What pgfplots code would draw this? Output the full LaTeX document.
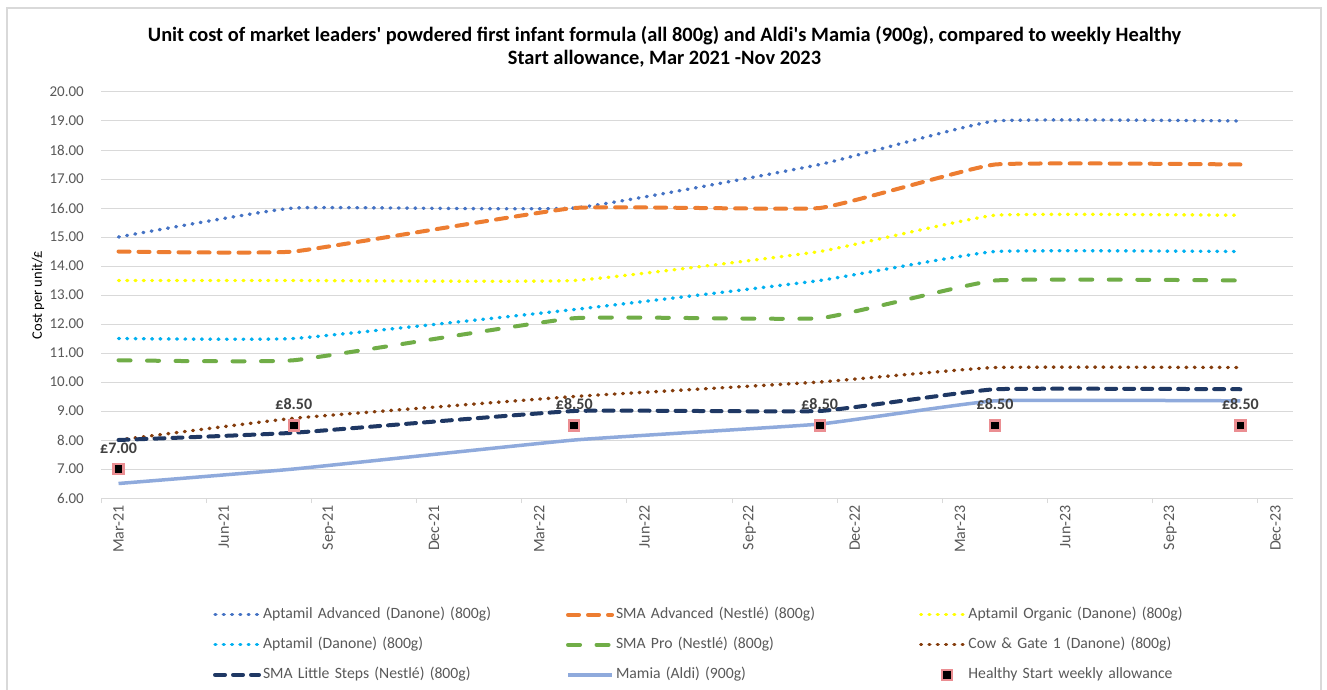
\documentclass[border=0pt]{standalone}
\usepackage{fontspec}
\setmainfont{Carlito}
\usepackage{pgfplots}
\pgfplotsset{compat=1.18}
\definecolor{cborder}{HTML}{D9D9D9}
\definecolor{ctext}{HTML}{595959}
\definecolor{clab}{HTML}{404040}
\definecolor{cAA}{HTML}{4472C4}
\definecolor{cSA}{HTML}{ED7D31}
\definecolor{cAO}{HTML}{FFFF00}
\definecolor{cAP}{HTML}{00B0F0}
\definecolor{cSP}{HTML}{70AD47}
\definecolor{cCG}{HTML}{843C0C}
\definecolor{cSL}{HTML}{1F3864}
\definecolor{cMA}{HTML}{8FAADC}
\definecolor{cMK}{HTML}{EB8E92}
\pgfplotsset{hslegend/.style={legend image code/.code={\draw[##1] plot coordinates {(26pt,0pt)};}},
  dotline/.style={line width=3.4pt, line cap=round, dash pattern=on 0.8pt off 7.5pt, smooth, tension=0.2},
  dashline/.style={line width=4pt, line cap=round, dash pattern=on 11pt off 9pt, smooth, tension=0.2}}
\begin{document}
\begin{tikzpicture}
\path[use as bounding box, fill=white] (0,0) rectangle (1327pt,689pt);
\draw[cborder, line width=1.2pt] (7pt,-5pt) -- (7pt,681pt) -- (1321pt,681pt) -- (1321pt,-5pt);
\node[font=\fontsize{20.4}{23}\selectfont\bfseries, align=center] at (664.5pt,642pt)
  {Unit cost of market leaders\textquotesingle\ powdered first infant formula (all 800g) and Aldi\textquotesingle s Mamia (900g), compared to weekly Healthy\\Start allowance, Mar 2021 -Nov 2023};
\begin{axis}[
  scale only axis, width=1192pt, height=406pt,
  at={(101pt,191pt)}, anchor=south west,
  xmin=-0.5, xmax=33.5, ymin=6, ymax=20,
  axis x line*=bottom, axis y line*=left,
  separate axis lines,
  x axis line style={draw=cborder, line width=1pt, -},
  y axis line style={draw=none},
  ymajorgrids, grid style={cborder, line width=1pt},
  ytick={6,7,...,20},
  ytick style={draw=none},
  /pgf/number format/assume math mode=true,
  yticklabel={\pgfmathprintnumber[fixed,fixed zerofill,precision=2]{\tick}},
  yticklabel style={inner sep=0pt, xshift=-12pt, text=ctext, font=\fontsize{15}{18}\selectfont},
  tick align=outside,
  major tick length=5pt,
  xtick={-0.5,2.5,...,32.5},
  xticklabels={},
  xtick style={draw=cborder, line width=1pt},
  extra x ticks={0,3,...,33},
  extra x tick labels={Mar-21,Jun-21,Sep-21,Dec-21,Mar-22,Jun-22,Sep-22,Dec-22,Mar-23,Jun-23,Sep-23,Dec-23},
  extra x tick style={major tick length=0pt, xtick style={draw=none}},
  xticklabel style={rotate=90, anchor=east, inner sep=0pt, xshift=-7pt, text=ctext, font=\fontsize{16}{18}\selectfont},
  ylabel={Cost per unit/£},
  ylabel style={at={(axis description cs:-0.0529,0.5)}, anchor=center, font=\fontsize{14.5}{17}\selectfont, text=black},
  legend image code/.code={\draw[#1] (0pt,0pt) -- (44pt,0pt);},
  legend cell align=left,
  legend style={draw=none, fill=none, inner sep=0pt, outer sep=0pt,
    at={(0.094,-0.271)}, anchor=north west,
    font=\fontsize{15.7}{17}\selectfont, text=ctext,
    legend columns=3, row sep=16.5pt,
    nodes={inner sep=0pt, text width=303pt, text height=10.5pt, text depth=3pt, align=left},
    /tikz/every odd column/.append style={column sep=2pt}},
]
\addplot[cAA, dotline] coordinates {(0,15) (5,16) (13,16) (20,17.5) (25,19) (32,19)};
\addlegendentry{Aptamil Advanced (Danone) (800g)}
\addplot[cSA, dashline] coordinates {(0,14.5) (5,14.5) (13,16) (20,16) (25,17.5) (32,17.5)};
\addlegendentry{SMA Advanced (Nestlé) (800g)}
\addplot[cAO, dotline] coordinates {(0,13.5) (5,13.5) (13,13.5) (20,14.5) (25,15.75) (32,15.75)};
\addlegendentry{Aptamil Organic (Danone) (800g)}
\addplot[cAP, dotline] coordinates {(0,11.5) (5,11.5) (13,12.5) (20,13.5) (25,14.5) (32,14.5)};
\addlegendentry{Aptamil (Danone) (800g)}
\addplot[cSP, line width=4pt, line cap=round, dash pattern=on 12pt off 16.5pt, smooth, tension=0.2] coordinates {(0,10.75) (5,10.75) (13,12.2) (20,12.2) (25,13.5) (32,13.5)};
\addlegendentry{SMA Pro (Nestlé) (800g)}
\addplot[cCG, dotline] coordinates {(0,8) (5,8.75) (13,9.5) (20,10) (25,10.5) (32,10.5)};
\addlegendentry{Cow \& Gate 1 (Danone) (800g)}
\addplot[cSL, line width=4pt, line cap=round, dash pattern=on 10pt off 8pt, smooth, tension=0.2] coordinates {(0,8) (5,8.25) (13,9) (20,9) (25,9.75) (32,9.75)};
\addlegendentry{SMA Little Steps (Nestlé) (800g)}
\addplot[cMA, line width=3.5pt, smooth, tension=0.2] coordinates {(0,6.5) (5,7) (13,8) (20,8.55) (25,9.35) (32,9.35)};
\addlegendentry{Mamia (Aldi) (900g)}
\addplot[only marks, mark=square*, mark size=5pt, mark options={fill=black, draw=cMK, line width=2.2pt},
  hslegend,
  nodes near coords, point meta=explicit symbolic,
  every node near coord/.append style={anchor=center, yshift=21pt, font=\fontsize{16}{18}\selectfont\bfseries, text=clab}]
  table[meta=lab] {
x y lab
0 7 £7.00
5 8.5 £8.50
13 8.5 £8.50
20 8.5 £8.50
25 8.5 £8.50
32 8.5 £8.50
};
\addlegendentry{Healthy Start weekly allowance}
\end{axis}
\end{tikzpicture}
\end{document}
